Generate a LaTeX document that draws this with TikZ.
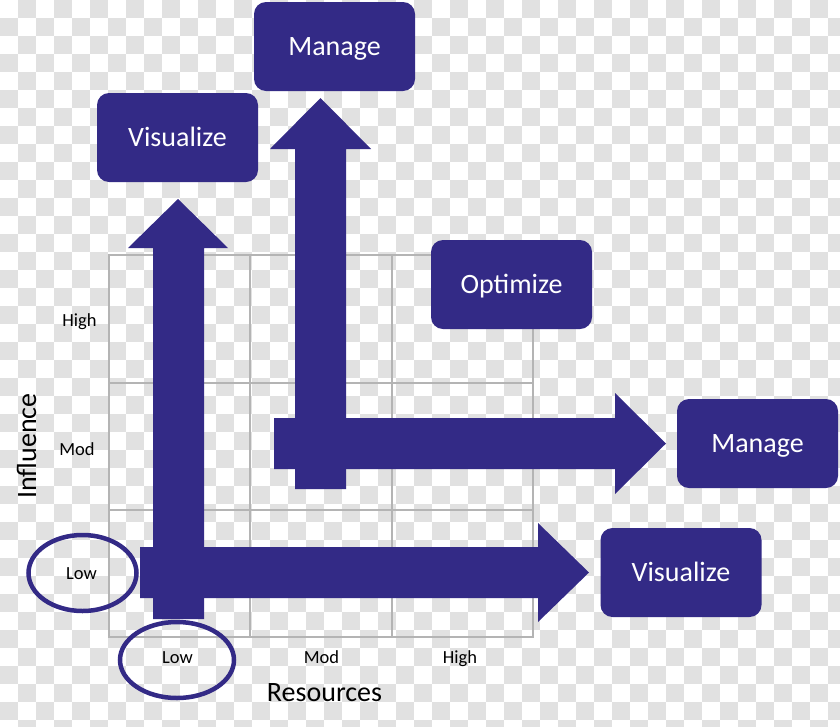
\documentclass[tikz,border=0pt]{standalone}
\usepackage{fontspec}
\setmainfont{Carlito}
\definecolor{purp}{RGB}{51,42,134}
\definecolor{chk}{RGB}{225,225,225}
\definecolor{gridc}{RGB}{180,180,180}
\begin{document}
\begin{tikzpicture}[x=1pt,y=-1pt,
  box/.style={fill=purp, rounded corners=12pt, minimum width=161pt, minimum height=89pt,
    inner sep=0pt, text height=18pt, text depth=0pt, text=white, font=\fontsize{28}{32}\selectfont},
  axl/.style={font=\fontsize{18.5}{22}\selectfont, text=black, inner sep=0pt, anchor=base},
  ttl/.style={font=\fontsize{28}{32}\selectfont, text=black, inner sep=0pt, anchor=base},
  blk/.style={fill=purp},
  ring/.style={draw=purp, line width=4.5pt},
  gridl/.style={draw=gridc, line width=1.5pt},
  tile/.style={fill=chk, draw=none}]
\useasboundingbox (0,0) rectangle (840,726);
% transparency checkerboard background
\fill[white] (0,0) rectangle (840,726);
\foreach \i in {0,...,46}{
  \foreach \j in {0,...,40}{
    \pgfmathtruncatemacro{\myparity}{mod(\i+\j,2)}
    \ifnum\myparity=1
      \path[tile] (\i*18,\j*18) rectangle ++(18,18);
    \fi
  }
}
% grid
\draw[gridl] (109,255) rectangle (533,637);
\draw[gridl] (250,255) -- (250,637);
\draw[gridl] (392,255) -- (392,637);
\draw[gridl] (109,383) -- (533,383);
\draw[gridl] (109,510) -- (533,510);
% block arrows
\fill[blk] (153,619) -- (153,248) -- (128,248) -- (178,199) -- (228,248) -- (204,248) -- (204,619) -- cycle;
\fill[blk] (140,547) -- (538,547) -- (538,523) -- (589,572.5) -- (538,622) -- (538,598) -- (140,598) -- cycle;
\fill[blk] (295,489) -- (295,149) -- (270,149) -- (320.5,98) -- (371,149) -- (346,149) -- (346,489) -- cycle;
\fill[blk] (274,418) -- (615,418) -- (615,393) -- (666,443.5) -- (615,494) -- (615,469) -- (274,469) -- cycle;
% boxes
\node[box] (vis1) at (177.5,137.5) {Visualize};
\node[box] (man1) at (334.5,46.5) {Manage};
\node[box] (opt) at (511.5,284.5) {Optimize};
\node[box] (man2) at (757.5,443.5) {Manage};
\node[box] (vis2) at (681,572.5) {Visualize};
% axis labels
\node[axl] (yh) at (79.5,326) {High};
\node[axl] (ym) at (77,455) {Mod};
\node[axl] (yl) at (81.5,579) {Low};
\node[axl] (xl) at (177.5,663) {Low};
\node[axl] (xm) at (321.5,663) {Mod};
\node[axl] (xh) at (460,663) {High};
\node[ttl] (xt) at (324.5,701) {Resources};
\node[ttl, rotate=90] (yt) at (36,446) {Influence};
% rings
\draw[ring] (82.5,573) ellipse [x radius=54, y radius=38];
\draw[ring] (177,660) ellipse [x radius=57, y radius=38];
\end{tikzpicture}
\end{document}
